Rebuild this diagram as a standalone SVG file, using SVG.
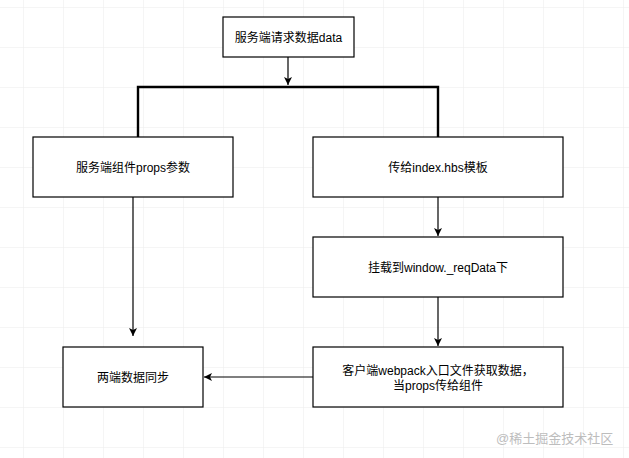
<svg xmlns="http://www.w3.org/2000/svg" width="629" height="458" viewBox="0 0 629 458">
<style>
.box{fill:#ffffff;stroke:#000000;stroke-width:1.2}
.t{font-family:"Liberation Sans","Noto Sans CJK SC",sans-serif;font-size:12px;fill:#000000;text-anchor:middle}
.c{fill:none;stroke:#000000;stroke-width:1.2}
.grid{stroke:#ebebeb;stroke-width:1}
.wm{font-family:"Liberation Sans","Noto Sans CJK SC",sans-serif;font-size:13px;fill:#bdbdbd}
</style>
<defs>
<marker id="arr" markerUnits="userSpaceOnUse" markerWidth="10" markerHeight="9" refX="8" refY="4" orient="auto">
<path d="M0,0 L8,4 L0,8 L2,4 Z" fill="#000000"/>
</marker>
<pattern id="gp" x="23" y="7" width="40" height="40" patternUnits="userSpaceOnUse">
<path d="M0,0 H40 M0,0 V40" class="grid" fill="none"/>
</pattern>
</defs>
<rect x="0" y="0" width="629" height="458" fill="#ffffff"/>
<rect x="0" y="0" width="629" height="458" fill="url(#gp)"/>
<g id="connectors">
<path class="c" d="M288,57 V85" marker-end="url(#arr)"/>
<path d="M138,137 V87 H438 V137" fill="none" stroke="#000000" stroke-width="2.4"/>
<path class="c" d="M133,197 V336" marker-end="url(#arr)"/>
<path class="c" d="M438,197 V236" marker-end="url(#arr)"/>
<path class="c" d="M438,297 V346" marker-end="url(#arr)"/>
<path class="c" d="M313,377 H204" marker-end="url(#arr)"/>
</g>
<g id="n1">
<rect class="box" x="223" y="17" width="131" height="40"/>
<text class="t" x="288.5" y="41.5">服务端请求数据data</text>
</g>
<g id="n2">
<rect class="box" x="33" y="137" width="200" height="60"/>
<text class="t" x="133" y="171.5">服务端组件props参数</text>
</g>
<g id="n3">
<rect class="box" x="313" y="137" width="250" height="60"/>
<text class="t" x="438" y="171.5">传给index.hbs模板</text>
</g>
<g id="n4">
<rect class="box" x="313" y="237" width="250" height="60"/>
<text class="t" x="438" y="271.5">挂载到window._reqData下</text>
</g>
<g id="n5">
<rect class="box" x="63" y="347" width="140" height="60"/>
<text class="t" x="133" y="381.5">两端数据同步</text>
</g>
<g id="n6">
<rect class="box" x="313" y="347" width="250" height="60"/>
<text class="t" x="438" y="375">客户端webpack入口文件获取数据，</text>
<text class="t" x="438" y="389.5">当props传给组件</text>
</g>
<text class="wm" x="496" y="442.5">@稀土掘金技术社区</text>
</svg>
